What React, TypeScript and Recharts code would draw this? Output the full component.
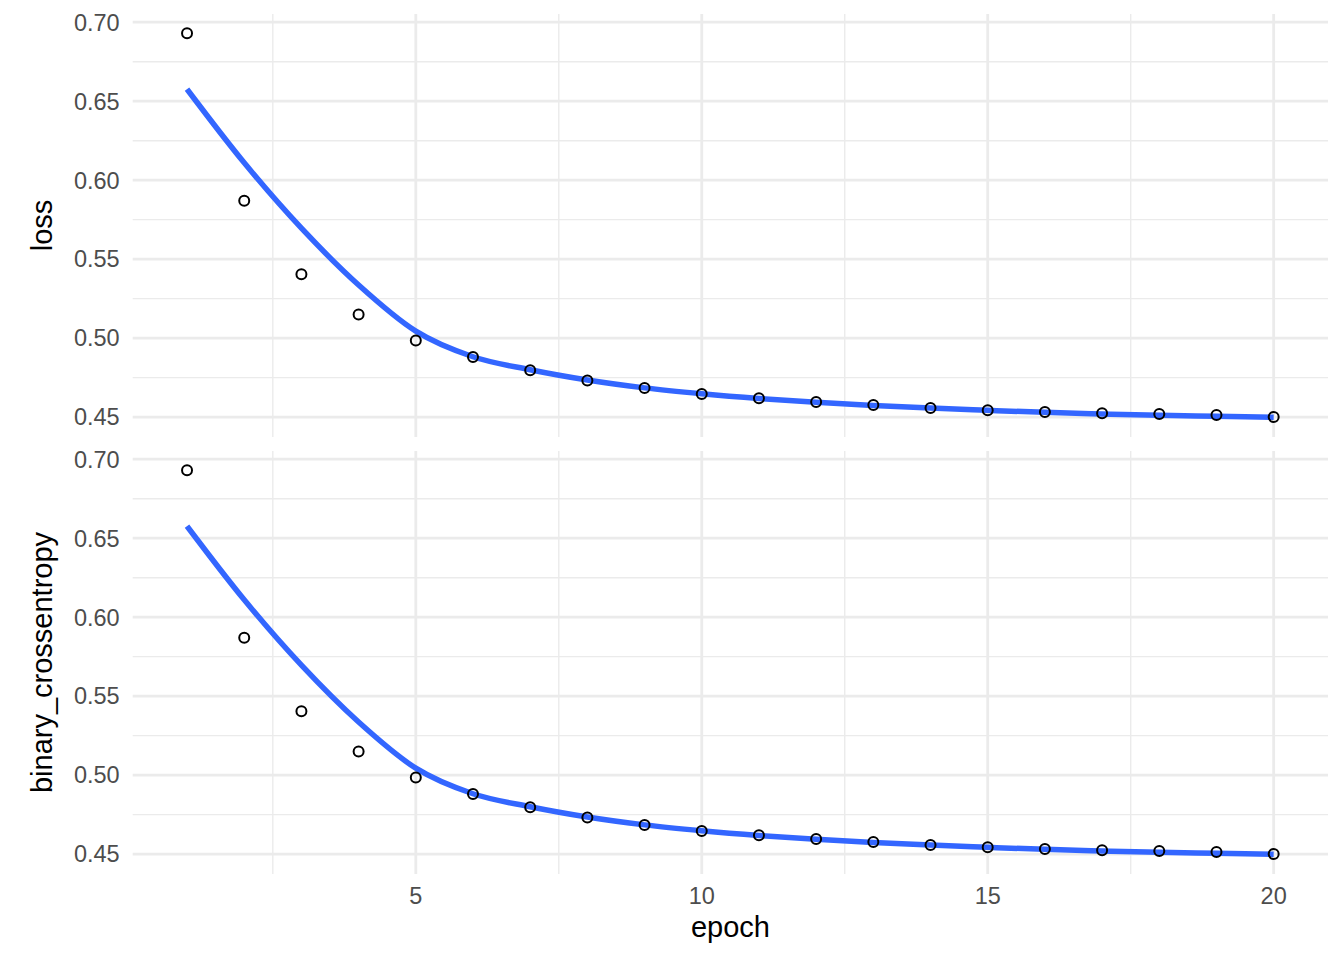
import { ComposedChart, Line, Scatter, XAxis, YAxis, CartesianGrid } from 'recharts'

const epochs = [1, 2, 3, 4, 5, 6, 7, 8, 9, 10, 11, 12, 13, 14, 15, 16, 17, 18, 19, 20]

// observed values per epoch
const loss = [0.693, 0.587, 0.5405, 0.515, 0.4985, 0.488, 0.4797, 0.4732, 0.4684, 0.4646, 0.462, 0.4595, 0.4576, 0.4557, 0.4544, 0.4532, 0.4525, 0.4519, 0.4513, 0.45]
const crossentropy = [0.693, 0.587, 0.5405, 0.515, 0.4985, 0.488, 0.4797, 0.4732, 0.4684, 0.4646, 0.462, 0.4595, 0.4576, 0.4557, 0.4544, 0.4532, 0.4525, 0.4519, 0.4513, 0.45]

// smoothed fit
const lossFit = [0.6576, 0.611, 0.5696, 0.5336, 0.5044, 0.4882, 0.48, 0.4735, 0.4685, 0.4648, 0.4618, 0.4594, 0.4574, 0.4557, 0.4543, 0.453, 0.452, 0.4511, 0.4505, 0.4499]
const crossentropyFit = [0.6576, 0.611, 0.5696, 0.5336, 0.5044, 0.4882, 0.48, 0.4735, 0.4685, 0.4648, 0.4618, 0.4594, 0.4574, 0.4557, 0.4543, 0.453, 0.452, 0.4511, 0.4505, 0.4499]

const xTicks = [5, 10, 15, 20]
const xMinor = [2.5, 7.5, 12.5, 17.5]
const yTicks = [0.45, 0.5, 0.55, 0.6, 0.65, 0.7]
const yMinor = [0.475, 0.525, 0.575, 0.625, 0.675]

const X_DOMAIN = [0.05, 20.95]
const Y_DOMAIN = [0.4374, 0.7052]

const FONT = '"Liberation Sans", Arial, sans-serif'
const tickStyle = { fontSize: 23.5, fill: '#4D4D4D', fontFamily: FONT }

function Ring({ cx, cy }: { cx?: number; cy?: number }) {
  if (cx == null || cy == null) return null
  return <circle cx={cx} cy={cy} r={5} fill="none" stroke="#000" strokeWidth={2} />
}

function Panel({ values, fit, top, height, margin, showX }: {
  values: number[]
  fit: number[]
  top: number
  height: number
  margin: { top: number; right: number; bottom: number; left: number }
  showX: boolean
}) {
  const rows = epochs.map((e, i) => ({ epoch: e, value: values[i], fit: fit[i] }))
  return (
    <div style={{ position: 'absolute', left: 0, top }}>
      <ComposedChart width={1344} height={height} data={rows} margin={margin}>
        <CartesianGrid
          stroke="#EBEBEB"
          strokeWidth={1.4}
          horizontalValues={yMinor}
          verticalValues={xMinor}
        />
        <CartesianGrid
          stroke="#EBEBEB"
          strokeWidth={2.8}
          horizontalValues={yTicks}
          verticalValues={xTicks}
        />
        <XAxis
          dataKey="epoch"
          type="number"
          domain={X_DOMAIN}
          ticks={xTicks}
          allowDataOverflow
          hide={!showX}
          height={showX ? 40 : 0}
          axisLine={false}
          tickLine={false}
          tickSize={0}
          tickMargin={13}
          tick={tickStyle}
        />
        <YAxis
          type="number"
          domain={Y_DOMAIN}
          ticks={yTicks}
          allowDataOverflow
          width={60}
          axisLine={false}
          tickLine={false}
          tickSize={0}
          tickMargin={13}
          tick={tickStyle}
          tickFormatter={(v: number) => v.toFixed(2)}
        />
        <Line
          type="monotone"
          dataKey="fit"
          stroke="#3366FF"
          strokeWidth={5.5}
          dot={false}
          activeDot={false}
          isAnimationActive={false}
        />
        <Scatter data={rows} dataKey="value" shape={<Ring />} isAnimationActive={false} />
      </ComposedChart>
    </div>
  )
}

export default function App() {
  return (
    <div style={{ position: 'absolute', left: 0, top: 0, width: 1344, height: 960, background: '#fff', fontFamily: FONT }}>
      <Panel
        values={loss}
        fit={lossFit}
        top={0}
        height={444}
        margin={{ top: 14, right: 16, bottom: 7, left: 72.7 }}
        showX={false}
      />
      <Panel
        values={crossentropy}
        fit={crossentropyFit}
        top={444}
        height={516}
        margin={{ top: 7, right: 16, bottom: 46, left: 72.7 }}
        showX
      />
      <svg width={1344} height={960} style={{ position: 'absolute', left: 0, top: 0, pointerEvents: 'none' }}>
        <text x={730.4} y={936.7} textAnchor="middle" fontSize={29} fontFamily={FONT} fill="#000">epoch</text>
        <text x={51.7} y={225.5} textAnchor="middle" fontSize={29} fontFamily={FONT} fill="#000" transform="rotate(-90 51.7 225.5)">loss</text>
        <text x={51.7} y={662.5} textAnchor="middle" fontSize={29} fontFamily={FONT} fill="#000" transform="rotate(-90 51.7 662.5)">binary_crossentropy</text>
      </svg>
    </div>
  )
}
